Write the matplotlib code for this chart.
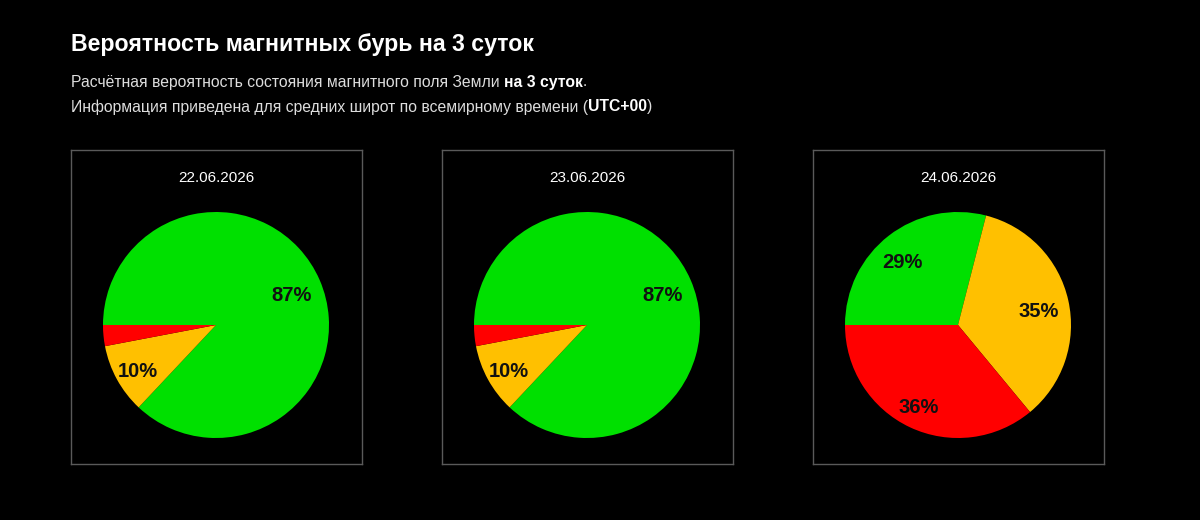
import matplotlib.pyplot as plt

plt.rcParams['font.family'] = ['Liberation Sans', 'DejaVu Sans']

dates = ['22.06.2026', '23.06.2026', '24.06.2026']
green = [87, 87, 29]
yellow = [10, 10, 35]
red = [3, 3, 36]
colors = ['#00e000', '#ffc000', '#ff0000']

title = 'Вероятность магнитных бурь на 3 суток'
line1 = [('Расчётная вероятность состояния магнитного поля Земли ', 'normal'),
         ('на 3 суток', 'bold'), ('.', 'normal')]
line2 = [('Информация приведена для средних широт по всемирному времени (', 'normal'),
         ('UTC+00', 'bold'), (')', 'normal')]

W, H = 1200, 520
fig = plt.figure(figsize=(12, 5.2), dpi=100, facecolor='black')


def px(x, y):
    return x / W, 1 - y / H


fig.text(*px(71, 45), title, color='white', fontsize=16.7, fontweight='bold', va='center')

renderer = fig.canvas.get_renderer()


def rich_line(parts, y):
    x = 71
    for s, w in parts:
        t = fig.text(*px(x, y), s, color='white' if w == 'bold' else '#dddddd',
                     fontsize=11.35, fontweight=w, va='center')
        x += t.get_window_extent(renderer).width


rich_line(line1, 82)
rich_line(line2, 107)


def fmt(p):
    return '{:.0f}%'.format(p) if p >= 5 else ''


for i, d in enumerate(dates):
    left = 71 + i * 371
    top, bw, bh = 150, 291, 314
    box = fig.add_axes([left / W, 1 - (top + bh) / H, bw / W, bh / H])
    box.set_facecolor('black')
    box.set_xticks([])
    box.set_yticks([])
    for sp in box.spines.values():
        sp.set_color('#5a5a5a')
        sp.set_linewidth(1)

    fig.text(*px(left + bw / 2, 178), d, color='white', fontsize=11, ha='center', va='center')

    r = 113
    cx, cy = left + 145, 325
    ax = fig.add_axes([(cx - r) / W, 1 - (cy + r) / H, 2 * r / W, 2 * r / H])
    wedges, texts, autotexts = ax.pie(
        [green[i], yellow[i], red[i]], colors=colors, startangle=180,
        counterclock=False, autopct=fmt, pctdistance=0.76,
        textprops=dict(fontsize=14.5, fontweight='bold', color='#111111'),
        wedgeprops=dict(linewidth=0))
    # nudge labels a little left and down
    for t in autotexts:
        x, y = t.get_position()
        t.set_position((x - 3 / r, y - 5 / r))
    ax.set_xlim(-1, 1)
    ax.set_ylim(-1, 1)

fig.savefig('out.png', dpi=100, facecolor='black')
